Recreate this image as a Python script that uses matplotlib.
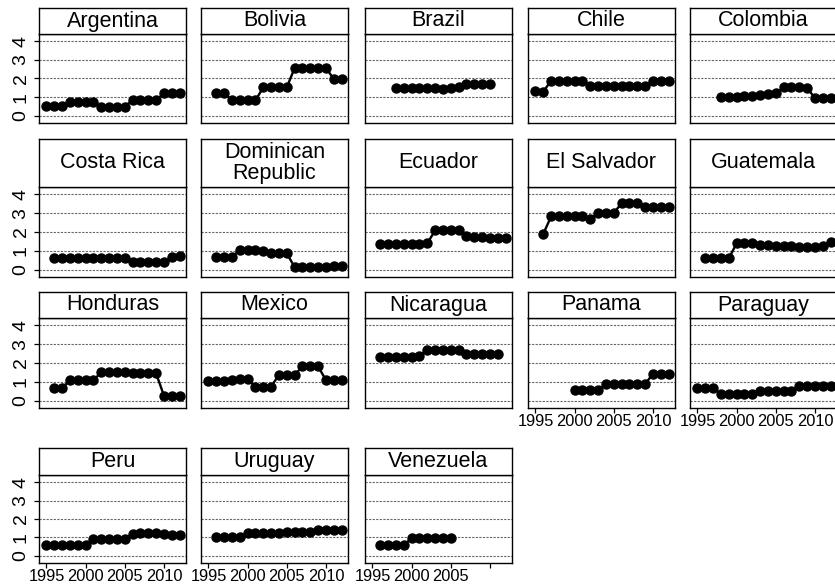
import matplotlib
matplotlib.use("Agg")
import matplotlib.pyplot as plt

plt.rcParams['font.family'] = ['Liberation Sans', 'DejaVu Sans']

countries = ["Argentina", "Bolivia", "Brazil", "Chile", "Colombia",
             "Costa Rica", "Dominican\nRepublic", "Ecuador", "El Salvador", "Guatemala",
             "Honduras", "Mexico", "Nicaragua", "Panama", "Paraguay",
             "Peru", "Uruguay", "Venezuela"]

start_years = [1995, 1996, 1998, 1995, 1998,
               1996, 1996, 1996, 1996, 1996,
               1996, 1995, 1996, 2000, 1995,
               1995, 1996, 1996]

argentina = [0.55, 0.55, 0.55, 0.72, 0.72, 0.72, 0.72, 0.5, 0.5, 0.5, 0.5, 0.85, 0.85, 0.85, 0.85, 1.2, 1.2, 1.2]
bolivia = [1.22, 1.22, 0.83, 0.83, 0.83, 0.83, 1.52, 1.52, 1.52, 1.52, 2.56, 2.56, 2.56, 2.56, 2.56, 1.98, 1.98]
brazil = [1.5, 1.5, 1.48, 1.48, 1.47, 1.47, 1.46, 1.48, 1.52, 1.68, 1.68, 1.68, 1.68]
chile = [1.35, 1.3, 1.88, 1.88, 1.88, 1.88, 1.88, 1.62, 1.62, 1.6, 1.6, 1.6, 1.6, 1.6, 1.62, 1.85, 1.85, 1.85]
colombia = [1.0, 1.0, 1.0, 1.05, 1.08, 1.12, 1.15, 1.2, 1.52, 1.52, 1.52, 1.5, 0.95, 0.95, 0.95]
costa_rica = [0.62, 0.62, 0.62, 0.62, 0.62, 0.62, 0.62, 0.62, 0.62, 0.62, 0.4, 0.4, 0.4, 0.4, 0.4, 0.7, 0.72]
dominican_rep = [0.68, 0.68, 0.68, 1.05, 1.05, 1.05, 1.0, 0.87, 0.87, 0.87, 0.15, 0.15, 0.15, 0.15, 0.15, 0.18, 0.2]
ecuador = [1.38, 1.38, 1.38, 1.38, 1.38, 1.38, 1.4, 2.08, 2.08, 2.08, 2.08, 1.78, 1.75, 1.72, 1.7, 1.7, 1.7]
el_salvador = [1.9, 2.82, 2.82, 2.82, 2.82, 2.82, 2.68, 3.0, 3.0, 3.0, 3.52, 3.52, 3.52, 3.32, 3.3, 3.3, 3.3]
guatemala = [0.6, 0.6, 0.6, 0.6, 1.4, 1.4, 1.4, 1.3, 1.3, 1.28, 1.25, 1.25, 1.22, 1.2, 1.2, 1.25, 1.45]
honduras = [0.68, 0.68, 1.08, 1.08, 1.08, 1.08, 1.52, 1.52, 1.5, 1.5, 1.45, 1.45, 1.45, 1.45, 0.28, 0.28, 0.28]
mexico = [1.07, 1.07, 1.07, 1.12, 1.15, 1.15, 0.75, 0.75, 0.75, 1.37, 1.37, 1.37, 1.82, 1.82, 1.82, 1.1, 1.1, 1.1]
nicaragua = [2.32, 2.32, 2.32, 2.32, 2.32, 2.35, 2.7, 2.7, 2.7, 2.7, 2.7, 2.48, 2.48, 2.48, 2.48, 2.48]
panama = [0.57, 0.57, 0.57, 0.57, 0.88, 0.88, 0.88, 0.88, 0.88, 0.88, 1.43, 1.43, 1.43]
paraguay = [0.7, 0.7, 0.7, 0.34, 0.34, 0.34, 0.34, 0.34, 0.52, 0.52, 0.52, 0.52, 0.52, 0.8, 0.8, 0.8, 0.8, 0.8]
peru = [0.57, 0.57, 0.57, 0.57, 0.57, 0.57, 0.93, 0.93, 0.93, 0.93, 0.93, 1.2, 1.22, 1.22, 1.22, 1.2, 1.15, 1.15]
uruguay = [1.02, 1.0, 1.0, 1.02, 1.25, 1.25, 1.25, 1.25, 1.25, 1.32, 1.32, 1.32, 1.32, 1.42, 1.42, 1.42, 1.42]
venezuela = [0.57, 0.57, 0.57, 0.57, 0.98, 0.98, 0.98, 0.98, 0.98, 0.98]

series = [argentina, bolivia, brazil, chile, colombia,
          costa_rica, dominican_rep, ecuador, el_salvador, guatemala,
          honduras, mexico, nicaragua, panama, paraguay,
          peru, uruguay, venezuela]

x_ticks = [1995, 2000, 2005, 2010]
x_ticklabels = ["1995", "2000", "2005", "2010"]
y_ticks = [0, 1, 2, 3, 4]
y_ticklabels = ["0", "1", "2", "3", "4"]

W, H = 835, 586
fig = plt.figure(figsize=(W / 100, H / 100), dpi=100)

col_left = [39, 201, 365, 528, 690]
col_w = 147
# (title top, plot top, plot bottom) in pixels
rows = [(8, 34, 123), (139, 187, 277), (292, 318, 408), (448, 475, 563)]

bottom_panels = {13, 14, 15, 16, 17}

for i, (name, y0, vals) in enumerate(zip(countries, start_years, series)):
    r, c = divmod(i, 5)
    tt, pt, pb = rows[r]
    x = col_left[c]
    ax = fig.add_axes([x / W, 1 - pb / H, col_w / W, (pb - pt) / H])
    years = list(range(y0, y0 + len(vals)))
    ax.set_xlim(1994.05, 2012.82)
    ax.set_ylim(-0.38, 4.38)
    for yv in y_ticks:
        ax.axhline(yv, color='0.4', lw=0.8, ls=(0, (2.0, 1.2)), zorder=1)
    ax.plot(years, vals, color='black', lw=1.7, marker='o', ms=6.5,
            mfc='black', mec='black', zorder=3)
    for s in ax.spines.values():
        s.set_linewidth(1.0)
        s.set_color('black')
    ax.set_xticks(x_ticks)
    ax.set_yticks(y_ticks)
    if i in bottom_panels:
        labs = list(x_ticklabels)
        if name == "Venezuela":
            labs[-1] = ""
        ax.set_xticklabels(labs, fontsize=11.8)
        ax.tick_params(axis='x', length=3.5, width=0.9, pad=1.0, direction='out')
    else:
        ax.tick_params(axis='x', length=0, labelbottom=False)
    if c == 0:
        ax.set_yticklabels(y_ticklabels, fontsize=14, rotation=90, va='center')
        ax.tick_params(axis='y', length=3.8, width=0.9, pad=3.0, direction='out')
    else:
        ax.tick_params(axis='y', length=0, labelleft=False)

    tax = fig.add_axes([x / W, 1 - pt / H, col_w / W, (pt - tt) / H])
    tax.set_xticks([])
    tax.set_yticks([])
    tax.set_facecolor('white')
    for s in tax.spines.values():
        s.set_linewidth(1.0)
        s.set_color('black')
    tax.text(0.5, 0.5, name, ha='center', va='center', fontsize=15.5,
             linespacing=1.0, transform=tax.transAxes)

fig.savefig("out.png", dpi=100)
